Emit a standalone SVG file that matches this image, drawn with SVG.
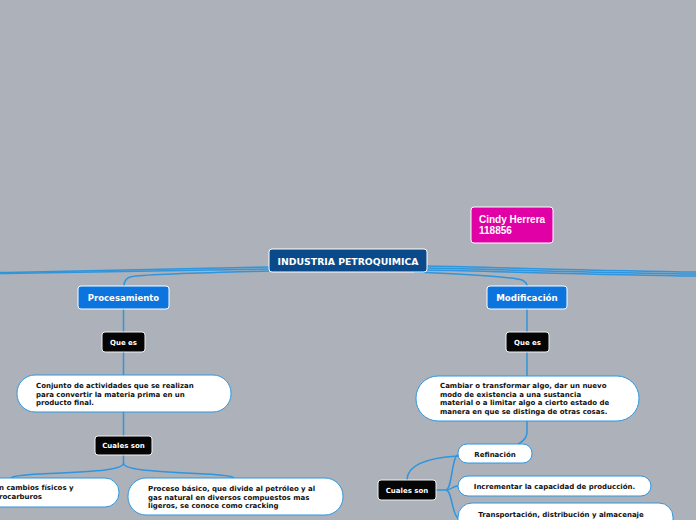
<svg xmlns="http://www.w3.org/2000/svg" width="696" height="520" viewBox="0 0 696 520">
<style>
.c{fill:none;stroke:#2f95dc;stroke-width:1.5}
.t{font-family:"DejaVu Sans",Verdana,sans-serif;font-weight:bold}
.w{fill:#fff}
.k{fill:#111}
.desc{fill:#fff;stroke:#2f95dc;stroke-width:1}
.blk{fill:#050505;stroke:#f2f2f2;stroke-width:1}
.blu{fill:#0b74de;stroke:#fff;stroke-width:1}
</style>
<rect width="696" height="520" fill="#adb2ba"/>
<g id="connectors">
<path class="c" d="M269,267 C180,268 90,271 0,272.5"/>
<path class="c" d="M269,269 C180,270 90,272.5 0,273.5"/>
<path class="c" d="M427,266 C520,268 610,271 696,272"/>
<path class="c" d="M427,268 C520,270 610,273 696,274"/>
<path class="c" d="M427,270 C520,272 610,275 696,276"/>
<path class="c" d="M269,271 C200,273 140,274 130,277 C125,279 124,282 124,286"/>
<path class="c" d="M414,272 C480,275 515,277 522,280 C526,282 527,284 527,286"/>
<path class="c" d="M123.5,309 V332 M123.5,352 V375 M123.5,412 V436"/>
<path class="c" d="M527,309 V332 M527,352 V376"/>
<path class="c" d="M123.5,455 V463 C123.5,470 100,471 40,474 C20,475 13,476 11,478"/>
<path class="c" d="M123.5,463 C123.5,470 150,471 205,474 C225,475 232,476 234,478"/>
<path class="c" d="M527,421 V432 C527,440 520,443 510,449 C490,453 470,454 458,456 C425,458 407,465 407,480"/>
<path class="c" d="M436,490 H446 C452,490 452,455 458,455"/>
<path class="c" d="M446,490 C452,490 452,486 458,486"/>
<path class="c" d="M446,490 C452,490 452,515 458,518"/>
</g>
<g id="n-central">
<rect x="269" y="249" width="158" height="23" rx="3" fill="#0b4a8a" stroke="#fff" stroke-width="1"/>
<text class="t w" x="348" y="265" font-size="9.3" text-anchor="middle">INDUSTRIA PETROQUIMICA</text>
</g>
<g id="n-cindy">
<rect x="471" y="207" width="82" height="36" rx="3" fill="#e000a5" stroke="#fff" stroke-width="1"/>
<text x="479" y="223" font-family="Liberation Sans,Arial,sans-serif" font-weight="bold" font-size="10" fill="#fff">Cindy Herrera</text>
<text x="479" y="234" font-family="Liberation Sans,Arial,sans-serif" font-weight="bold" font-size="10" fill="#fff">118856</text>
</g>
<g id="n-procesamiento">
<rect class="blu" x="78" y="286" width="91" height="23" rx="3"/>
<text class="t w" x="123.5" y="301" font-size="8.5" text-anchor="middle">Procesamiento</text>
</g>
<g id="n-modificacion">
<rect class="blu" x="487" y="286" width="80" height="23" rx="3"/>
<text class="t w" x="527" y="301" font-size="8.7" text-anchor="middle">Modificación</text>
</g>
<g id="n-quees-l">
<rect class="blk" x="102" y="332" width="43" height="20" rx="3"/>
<text class="t w" x="123.5" y="345" font-size="7" text-anchor="middle">Que es</text>
</g>
<g id="n-quees-r">
<rect class="blk" x="506" y="332" width="43" height="20" rx="3"/>
<text class="t w" x="527.5" y="345" font-size="7" text-anchor="middle">Que es</text>
</g>
<g id="n-desc-l">
<rect class="desc" x="17" y="375" width="214" height="37" rx="18"/>
<text class="t k" font-size="7"><tspan x="36" y="388">Conjunto de actividades que se realizan</tspan><tspan x="36" y="396.5">para convertir la materia prima en un</tspan><tspan x="36" y="405">producto final.</tspan></text>
</g>
<g id="n-cuales-l">
<rect class="blk" x="95" y="436" width="57" height="19" rx="3"/>
<text class="t w" x="123.5" y="448" font-size="7" text-anchor="middle">Cuales son</text>
</g>
<g id="n-cambios">
<rect class="desc" x="-100" y="478" width="219" height="29" rx="14"/>
<text class="t k" font-size="7"><tspan x="-1" y="490">n cambios físicos y</tspan><tspan x="-1" y="498.5">rocarburos</tspan></text>
</g>
<g id="n-cracking">
<rect class="desc" x="128" y="478" width="215" height="37" rx="18"/>
<text class="t k" font-size="7"><tspan x="148" y="491">Proceso básico, que divide al petróleo y al</tspan><tspan x="148" y="499.5">gas natural en diversos compuestos mas</tspan><tspan x="148" y="508">ligeros, se conoce como cracking</tspan></text>
</g>
<g id="n-desc-r">
<rect class="desc" x="416" y="376" width="223" height="45" rx="22"/>
<text class="t k" font-size="7"><tspan x="440" y="388">Cambiar o transformar algo, dar un nuevo</tspan><tspan x="440" y="396.5">modo de existencia a una sustancia</tspan><tspan x="440" y="405">material o a limitar algo a cierto estado de</tspan><tspan x="440" y="413.5">manera en que se distinga de otras cosas.</tspan></text>
</g>
<g id="n-cuales-r">
<rect class="blk" x="378" y="480" width="58" height="20" rx="3"/>
<text class="t w" x="407" y="493" font-size="7" text-anchor="middle">Cuales son</text>
</g>
<g id="n-refinacion">
<rect class="desc" x="458" y="444" width="74" height="19" rx="9"/>
<text class="t k" x="495" y="457" font-size="7" text-anchor="middle">Refinación</text>
</g>
<g id="n-incrementar">
<rect class="desc" x="458" y="476" width="193" height="20" rx="10"/>
<text class="t k" x="554.5" y="489" font-size="7" text-anchor="middle">Incrementar la capacidad de producción.</text>
</g>
<g id="n-transportacion">
<rect class="desc" x="458" y="503" width="215" height="40" rx="14"/>
<text class="t k" x="561" y="516.5" font-size="7" text-anchor="middle">Transportación, distribución y almacenaje</text>
</g>
</svg>
